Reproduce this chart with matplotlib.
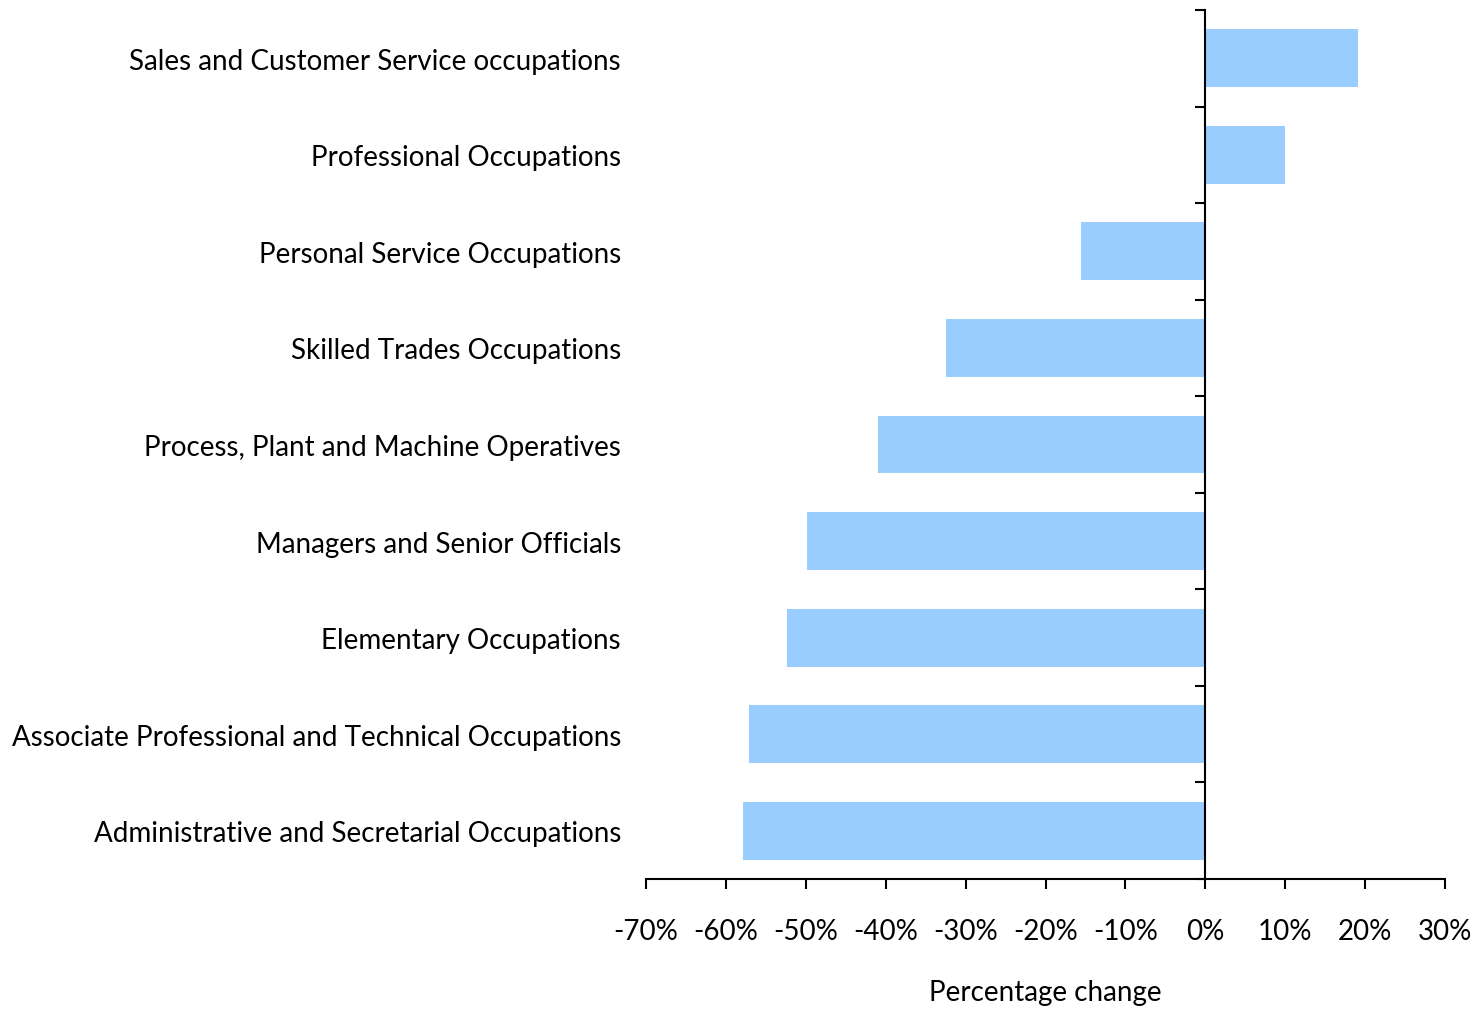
import matplotlib
matplotlib.use('Agg')
import matplotlib.pyplot as plt
import numpy as np
from matplotlib.ticker import FuncFormatter, FixedLocator

# 数据 (从上到下)
occupations = [
    'Sales and Customer Service occupations',
    'Professional Occupations',
    'Personal Service Occupations',
    'Skilled Trades Occupations',
    'Process, Plant and Machine Operatives',
    'Managers and Senior Officials',
    'Elementary Occupations',
    'Associate Professional and Technical Occupations',
    'Administrative and Secretarial Occupations',
]
pct_change = [19.1, 10.0, -15.6, -32.4, -41.0, -49.8, -52.3, -57.1, -57.9]
x_ticks = [-70, -60, -50, -40, -30, -20, -10, 0, 10, 20, 30]

plt.rcParams['font.family'] = ['Lato', 'DejaVu Sans']

fig = plt.figure(figsize=(14.72, 10.12), dpi=100)
ax = fig.add_axes([0.4389, 0.1304, 0.5428, 0.8587])

ypos = np.arange(len(occupations))[::-1]
ax.barh(ypos, pct_change, height=0.6, color='#99CCFF', zorder=2)

ax.set_xlim(-70, 30)
ax.set_ylim(-0.5, len(occupations) - 0.5)

# 坐标轴
ax.spines['top'].set_visible(False)
ax.spines['left'].set_visible(False)
ax.spines['right'].set_position(('data', 0))
ax.spines['right'].set_linewidth(1.5)
ax.spines['bottom'].set_linewidth(1.5)
ax.spines['right'].set_zorder(3)

ax.set_yticks(ypos)
ax.set_yticklabels(occupations, fontsize=20)
ax.yaxis.set_minor_locator(FixedLocator(np.arange(-0.5, len(occupations), 1.0)))
ax.tick_params(axis='y', which='major', left=True, right=False, length=0, pad=18)
ax.tick_params(axis='y', which='minor', left=False, right=True, direction='in',
               length=7, width=1.5)

ax.set_xticks(x_ticks)
ax.xaxis.set_major_formatter(FuncFormatter(lambda v, p: '%d%%' % v))
ax.tick_params(axis='x', which='major', direction='out', length=7, width=1.5,
               pad=21, labelsize=20)

ax.set_xlabel('Percentage change', fontsize=20, labelpad=25)

fig.savefig('out.png', dpi=100, facecolor='white')
